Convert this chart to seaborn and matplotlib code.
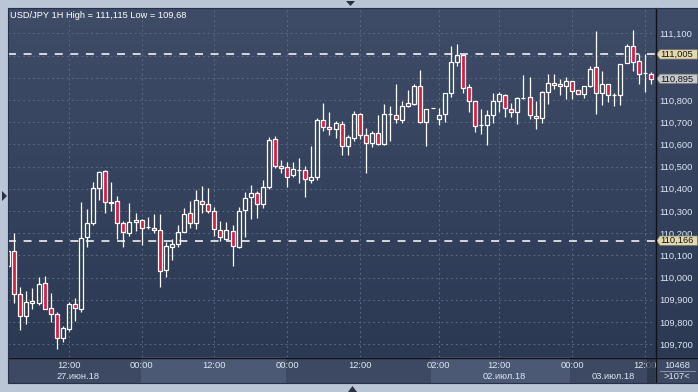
import numpy as np
import matplotlib
matplotlib.use("Agg")
import matplotlib.pyplot as plt
import seaborn as sns
from matplotlib.colors import LinearSegmentedColormap
from matplotlib.patches import Polygon, Rectangle
from matplotlib.lines import Line2D

sns.set_style("dark")
plt.rcParams["font.family"] = ["Liberation Sans", "DejaVu Sans"]

# ---------------- data (USD/JPY 1H, first bar partly hidden) ----------------
opens = [110.052, 110.120, 109.927, 109.828, 109.887, 109.884, 109.974, 109.862, 109.835, 109.727,
         109.767, 109.880, 109.857, 110.184, 110.245, 110.402, 110.479, 110.341, 110.344, 110.245,
         110.200, 110.250, 110.259, 110.227, 110.223, 110.213, 110.033, 110.137, 110.153, 110.207,
         110.290, 110.245, 110.344, 110.330, 110.299, 110.213, 110.175, 110.209, 110.139, 110.303,
         110.361, 110.380, 110.333, 110.407, 110.623, 110.501, 110.497, 110.461, 110.485, 110.483,
         110.438, 110.452, 110.709, 110.677, 110.668, 110.691, 110.591, 110.627, 110.736, 110.641,
         110.605, 110.650, 110.600, 110.736, 110.731, 110.709, 110.772, 110.781, 110.862, 110.700,
         110.763, 110.713, 110.736, 110.830, 110.973, 111.001, 110.857, 110.794, 110.689, 110.689,
         110.731, 110.794, 110.821, 110.758, 110.745, 110.808, 110.812, 110.729, 110.718, 110.835,
         110.875, 110.871, 110.862, 110.884, 110.844, 110.826, 110.862, 110.947, 110.830, 110.871,
         110.821, 110.821, 110.965, 111.041, 110.974, 110.920, 110.916]
highs = [110.129, 110.200, 109.958, 109.940, 109.953, 110.004, 110.007, 109.931, 109.845, 109.782,
         109.889, 109.907, 110.342, 110.308, 110.431, 110.480, 110.485, 110.431, 110.368, 110.255,
         110.336, 110.292, 110.264, 110.272, 110.286, 110.286, 110.162, 110.173, 110.236, 110.312,
         110.345, 110.395, 110.413, 110.404, 110.317, 110.255, 110.250, 110.237, 110.318, 110.384,
         110.416, 110.390, 110.439, 110.632, 110.638, 110.528, 110.519, 110.519, 110.537, 110.501,
         110.593, 110.718, 110.786, 110.745, 110.704, 110.704, 110.644, 110.749, 110.740, 110.673,
         110.659, 110.731, 110.782, 110.772, 110.872, 110.794, 110.845, 110.872, 110.935, 110.758,
         110.764, 110.763, 110.830, 111.045, 111.052, 111.003, 110.872, 110.794, 110.758, 110.754,
         110.830, 110.835, 110.827, 110.785, 110.815, 110.911, 110.902, 110.794, 110.841, 110.916,
         110.916, 110.893, 110.902, 110.884, 110.844, 110.862, 110.952, 111.110, 110.929, 110.871,
         110.830, 110.961, 111.051, 111.115, 111.006, 111.006, 110.925]
lows = [110.043, 109.884, 109.764, 109.792, 109.860, 109.875, 109.856, 109.800, 109.680, 109.711,
        109.761, 109.806, 109.844, 110.137, 110.237, 110.348, 110.292, 110.301, 110.174, 110.139,
        110.189, 110.211, 110.148, 110.218, 110.200, 109.959, 110.001, 110.078, 110.137, 110.204,
        110.225, 110.220, 110.292, 110.290, 110.189, 110.166, 110.171, 110.054, 110.135, 110.184,
        110.265, 110.270, 110.315, 110.399, 110.492, 110.469, 110.407, 110.455, 110.424, 110.364,
        110.425, 110.438, 110.662, 110.644, 110.627, 110.554, 110.554, 110.617, 110.626, 110.470,
        110.587, 110.596, 110.596, 110.614, 110.695, 110.695, 110.767, 110.776, 110.695, 110.594,
        110.762, 110.686, 110.700, 110.811, 110.951, 110.830, 110.744, 110.655, 110.648, 110.596,
        110.695, 110.745, 110.725, 110.722, 110.691, 110.803, 110.713, 110.668, 110.695, 110.781,
        110.848, 110.821, 110.803, 110.803, 110.826, 110.808, 110.857, 110.736, 110.775, 110.790,
        110.774, 110.776, 110.965, 110.929, 110.871, 110.835, 110.871]
closes = [110.120, 109.927, 109.828, 109.889, 109.892, 109.970, 109.860, 109.835, 109.727, 109.772,
          109.881, 109.862, 110.177, 110.245, 110.402, 110.474, 110.339, 110.335, 110.245, 110.204,
          110.250, 110.259, 110.225, 110.228, 110.213, 110.028, 110.141, 110.150, 110.204, 110.285,
          110.245, 110.348, 110.332, 110.299, 110.218, 110.184, 110.213, 110.144, 110.299, 110.357,
          110.380, 110.333, 110.407, 110.618, 110.501, 110.492, 110.455, 110.488, 110.486, 110.443,
          110.452, 110.709, 110.676, 110.668, 110.695, 110.591, 110.632, 110.736, 110.641, 110.605,
          110.650, 110.600, 110.736, 110.736, 110.713, 110.772, 110.785, 110.862, 110.700, 110.758,
          110.763, 110.731, 110.830, 110.970, 111.003, 110.853, 110.794, 110.682, 110.689, 110.731,
          110.794, 110.826, 110.763, 110.745, 110.808, 110.808, 110.731, 110.718, 110.835, 110.875,
          110.866, 110.862, 110.884, 110.839, 110.826, 110.862, 110.938, 110.830, 110.871, 110.821,
          110.821, 110.961, 111.041, 110.970, 110.916, 110.920, 110.895]

time_tick_pos = [9, 21, 33, 45, 57, 70, 80, 92, 104]
time_tick_labels = ["12:00", "00:00", "12:00", "00:00", "12:00", "02:00", "12:00", "00:00", "12:00"]
date_pos = [10.5, 33, 57, 80.8, 98.8]
date_labels = ["27.июн.18", "28.июн.18", "29.июн.18", "02.июл.18", "03.июл.18"]
day_bands = [(20.9, 44.8), (68.7, 91.7)]
price_ticks = [109.7, 109.8, 109.9, 110.0, 110.1, 110.2, 110.3, 110.4, 110.5,
               110.6, 110.7, 110.8, 110.9, 111.0, 111.1]
# labels hidden behind the price tags in the reference are left blank
price_tick_labels = ["109,700", "109,800", "109,900", "110,000", "110,100", "110,200", "110,300",
                     "110,400", "110,500", "110,600", "110,700", "110,800", "", "", "111,100"]
level_lines = [111.005, 110.166]
last_price = 110.895
title = "USD/JPY 1H High = 111,115 Low = 109,68"

# ---------------- layout ----------------
W, H = 698, 392
fig = plt.figure(figsize=(W / 100, H / 100), dpi=100)
fig.patch.set_facecolor("#bac6d6")


def fr(x0, y0, x1, y1):
    return [x0 / W, 1 - y1 / H, (x1 - x0) / W, (y1 - y0) / H]


XLIM = (-1.04, 105.7)
YLIM = (109.642, 111.214)
FS = 6.7
TXT = "#dce6f4"

# gradient background of price panel
bg = fig.add_axes(fr(8, 8, 698, 357), zorder=0)
cmap = LinearSegmentedColormap.from_list("g", ["#3f4c68", "#2c3953"])
bg.imshow(np.linspace(0, 1, 256)[:, None], aspect="auto", cmap=cmap, extent=[0, 1, 0, 1])
bg.axis("off")

# bottom time strip
strip = fig.add_axes(fr(8, 357, 655, 383), zorder=0.5)
strip.set_facecolor("#3d4962")
strip.set_xlim(*XLIM)
strip.set_ylim(0, 1)
for a, b in day_bands:
    strip.axvspan(a, b, color="#4c5974", lw=0)
strip.set_xticks([])
strip.set_yticks([])
for s in strip.spines.values():
    s.set_visible(False)

# bottom-right info box
info = fig.add_axes(fr(655, 357, 698, 383), zorder=0.5)
info.set_facecolor("#3d4962")
info.set_xlim(0, 43)
info.set_ylim(0, 26)
info.set_xticks([])
info.set_yticks([])
for s in info.spines.values():
    s.set_visible(False)
info.text(22, 18, "10468", ha="center", va="center", color=TXT, fontsize=FS)
info.text(22, 6.5, ">107<", ha="center", va="center", color=TXT, fontsize=FS)
info.plot([5, 40], [12.5, 12.5], color="#8390a8", lw=0.8)

# main candle axes
ax = fig.add_axes(fr(8, 8, 655, 357), zorder=2)
ax.set_facecolor("none")
ax.set_xlim(*XLIM)
ax.set_ylim(*YLIM)
for s in ax.spines.values():
    s.set_visible(False)

ax.set_xticks(time_tick_pos)
ax.set_xticklabels(time_tick_labels)
ax.set_xticks(date_pos, minor=True)
ax.set_xticklabels(date_labels, minor=True)
ax.set_yticks(price_ticks)
ax.set_yticklabels(price_tick_labels)
ax.yaxis.tick_right()
ax.tick_params(axis="x", which="major", length=0, pad=3.0, labelsize=FS, labelcolor=TXT)
ax.tick_params(axis="x", which="minor", length=0, pad=11.0, labelsize=FS, labelcolor=TXT)
ax.tick_params(axis="y", length=0, pad=3.0, labelsize=FS, labelcolor=TXT)
ax.grid(True, which="major", color="#5a6885", lw=0.7, ls=(0, (2, 3)))

x = np.arange(len(opens)) - 1
o = np.array(opens)
c = np.array(closes)
hi = np.array(highs)
lo = np.array(lows)
top = np.maximum(o, c)
bot = np.minimum(o, c)

ax.vlines(x, top, hi, color="white", lw=0.9, zorder=3)
ax.vlines(x, lo, bot, color="white", lw=0.9, zorder=3)
face = ["#de1a40" if cc < oo else "none" for oo, cc in zip(o, c)]
ax.bar(x, top - bot, bottom=bot, width=0.66, color=face, edgecolor="white",
       linewidth=0.9, zorder=4)

for lv in level_lines:
    ax.axhline(lv, color="white", lw=1.1, dashes=(5.2, 5.0), zorder=2)

# right price panel with value tags
rp = fig.add_axes(fr(655, 8, 698, 357), zorder=3)
rp.set_facecolor("none")
rp.set_xlim(0, 43)
rp.set_ylim(*YLIM)
rp.axis("off")
hh = 0.021
for lv, col in [(111.005, "#e4d9ae"), (110.166, "#e4d9ae"), (last_price, "#c5c9cd")]:
    poly = Polygon([(1.5, lv), (5, lv + hh), (42.5, lv + hh), (42.5, lv - hh), (5, lv - hh)],
                   closed=True, facecolor=col, edgecolor="#7d7d70", lw=0.5)
    rp.add_patch(poly)
    rp.text(5.3, lv, f"{lv:.3f}".replace(".", ","), ha="left", va="center",
            color="#151515", fontsize=FS)

# frame lines
fig.add_artist(Line2D([8 / W, 1], [1 - 357.5 / H] * 2, color="#101218", lw=1.0, zorder=6))
fig.add_artist(Line2D([655.5 / W] * 2, [1 - 383 / H, 1 - 8 / H], color="#101218", lw=1.0, zorder=6))
fig.add_artist(Rectangle((8 / W, 1 - 383 / H), 690 / W, 375 / H, fill=False,
                         edgecolor="#26304a", lw=0.8, transform=fig.transFigure, zorder=6))
fig.add_artist(Rectangle((647 / W, 1 - 383 / H), 8 / W, 25 / H, facecolor="#2a3449",
                         edgecolor="none", alpha=0.75, transform=fig.transFigure, zorder=5))

# title
fig.text(10 / W, 1 - 15 / H, title, ha="left", va="center", color="white", fontsize=FS, zorder=7)

# small navigation arrows
def tri(pts):
    fig.add_artist(Polygon([(px / W, 1 - py / H) for px, py in pts], closed=True,
                           facecolor="#2b3142", edgecolor="none", transform=fig.transFigure, zorder=7))

tri([(346, 1), (355, 1), (350.5, 6)])
tri([(2, 191), (2, 201), (7, 196)])
tri([(348, 392), (357, 392), (352.5, 386)])

fig.savefig("out.png", dpi=100, facecolor=fig.get_facecolor())
